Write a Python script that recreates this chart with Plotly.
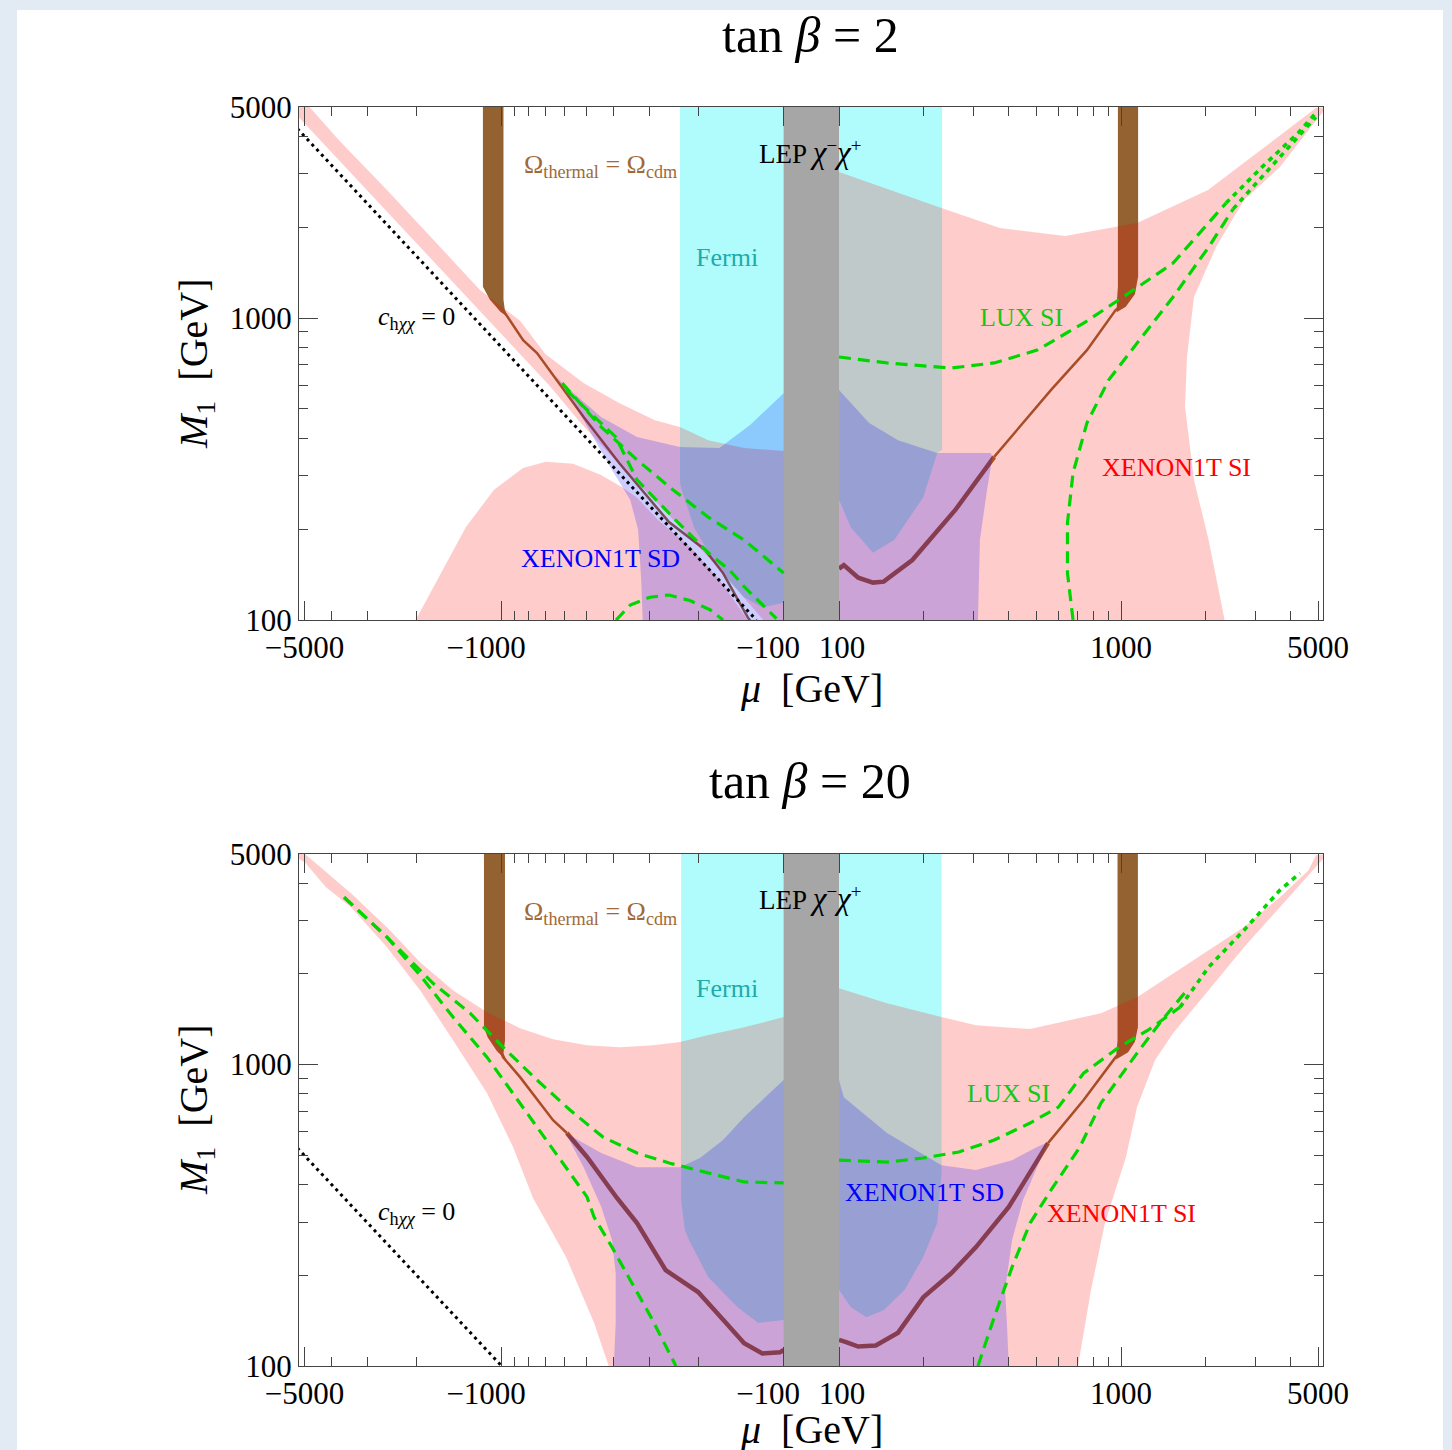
import numpy as np
import plotly.graph_objects as go

# ===================== DATA =====================
# axis ticks
x_tick_values = [-5000, -1000, -100, 100, 1000, 5000]
x_tick_labels = ["\u22125000", "\u22121000\u2003", "\u2212100\u2003", "\u2009100", "1000", "5000"]
x_minor_values = [-4000, -3000, -2000, -900, -800, -700, -600, -500, -400, -300, -200,
                  200, 300, 400, 500, 600, 700, 800, 900, 2000, 3000, 4000]
y_tick_values = [100, 1000, 5000]
y_tick_labels = ["100", "1000", "5000"]
y_minor_values = [200, 300, 400, 500, 600, 700, 800, 900, 2000, 3000, 4000]

# LEP chargino band (both panels)
lep_mu = [-100, 100, 100, -100]
lep_m1 = [100, 100, 5000, 5000]

# ---------- tan(beta) = 2 ----------
fermi_mu_t2 = [-233, 232, 232, 223, 199, 157, 132, 110, 100, -100, -119, -138, -169, -208, -230, -233]
fermi_m1_t2 = [5000, 5000, 366, 357, 255, 184, 167, 203, 250, 114, 110, 119, 146, 203, 270, 284]

brownL_mu_t2 = [-1165, -985, -985, -975, -955, -1010, -1100, -1165]
brownL_m1_t2 = [5000, 5000, 1150, 1070, 1010, 1050, 1150, 1270]
thermL_mu_t2 = [-1000, -919, -839, -749, -657, -512, -383, -255, -190, -164, -134, -130]
thermL_m1_t2 = [1080, 962, 845, 766, 647, 470, 331, 211, 171, 143, 102, 98]

brownR_mu_t2 = [975, 1150, 1150, 1120, 1040, 965, 968, 975]
brownR_m1_t2 = [5000, 5000, 1370, 1200, 1090, 1045, 1150, 1270]
thermR_thin_mu_t2 = [1000, 957, 757, 565, 355]
thermR_thin_m1_t2 = [1100, 1063, 783, 578, 347]
thermR_thick_mu_t2 = [355, 258, 182, 144, 132, 117, 104, 100]
thermR_thick_m1_t2 = [347, 231, 158, 134, 133, 138, 152, 148]

pinkA_mu_t2 = [-5800, -4800, -3772, -2550, -1742, -1193, -860, -700, -512, -383, -286, -233, -185, -138, -100,
               100, 231, 372, 633, 1140, 2035, 2730, 3880, 4910, 5400, 5160, 3660, 2730, 2173, 1815, 1714, 1687,
               1815, 2045, 2330,
               -118, -172, -240, -385, -525, -680, -906, -1359, -2265, -3398, -5436]
pinkA_m1_t2 = [5000, 5000, 3882, 2654, 1813, 1238, 980, 760, 609, 523, 459, 436, 394, 371, 363,
               3043, 2313, 1986, 1869, 2064, 2654, 3260, 4194, 4958, 5000, 4775, 3162, 2459, 1718, 1174, 743, 508,
               291, 184, 100,
               100, 150, 210, 330, 450, 600, 800, 1200, 2000, 3000, 4800]
pinkB_mu_t2 = [-2017, -1644, -1340, -1064, -840, -696, -558, -444, -371, -331, -278, -214, -169, -134]
pinkB_m1_t2 = [100, 143, 203, 270, 319, 334, 329, 302, 274, 254, 214, 174, 136, 100]

blue_mu_t2 = [-646, -563, -467, -406, -350, -328, -320, -316, 311, 316, 335, 350, 345, 223, 162, 128, 100,
              -100, -131.5, -169, -233, -331, -444, -610]
blue_m1_t2 = [647, 535, 394, 314, 250, 199, 136, 100, 100, 184, 270, 347, 357, 357, 394, 449, 578,
              564, 442, 371, 374, 404, 470, 609]

lux1_mu_t2 = [100, 148, 250, 355, 504, 737, 1017, 1530, 2357]
lux1_m1_t2 = [743, 710, 683, 710, 783, 962, 1174, 1520, 2403]
lux2_mu_t2 = [676, 646, 646, 676, 757, 904, 1140, 1530, 2045, 2500]
lux2_m1_t2 = [100, 143, 210, 307, 449, 623, 826, 1174, 1718, 2300]
luxtail_mu_t2 = [2357, 3162, 4245, 4910]
luxtail_m1_t2 = [2403, 3162, 4100, 4775]
luxtail2_mu_t2 = [2500, 3660, 4910]
luxtail2_m1_t2 = [2300, 3412, 4630]
lux3_mu_t2 = [-610, -444, -331, -247, -185, -138, -100]
lux3_m1_t2 = [609, 436, 339, 270, 219, 184, 143]
lux4_mu_t2 = [-591, -470, -394, -331, -247, -185, -155, -138, -106]
lux4_m1_t2 = [578, 470, 404, 291, 219, 167, 146, 129, 101]
lux5_mu_t2 = [-393, -350, -298, -255, -215, -182, -164]
lux5_m1_t2 = [100, 112, 119, 121, 116, 108, 100]

blind_mu_t2 = [-5300, -125]
blind_m1_t2 = [4240, 100]

# ---------- tan(beta) = 20 ----------
fermi_mu_t20 = [-231, 231, 231, 223, 199, 171, 144, 125, 110, 100, -100, -123, -146, -185, -214, -224, -231]
fermi_m1_t20 = [5000, 5000, 437, 298, 230, 179, 153, 145, 157, 179, 142, 139, 157, 197, 256, 282, 355]

brownL_mu_t20 = [-1155, -973, -973, -985, -960, -1040, -1120, -1155]
brownL_m1_t20 = [5000, 5000, 1200, 1090, 1030, 1110, 1230, 1330]
thermL_thin_mu_t20 = [-1000, -989, -860, -657, -587]
thermL_thin_m1_t20 = [1090, 1059, 909, 654, 593]
thermL_thick_mu_t20 = [-587, -498, -390, -331, -262, -233, -201, -160, -138, -119, -103, -100]
thermL_thick_m1_t20 = [593, 494, 361, 298, 208, 193, 176, 139, 119, 110, 111, 113]

brownR_mu_t20 = [972, 1148, 1148, 1120, 1060, 960, 965, 972]
brownR_m1_t20 = [5000, 5000, 1330, 1190, 1100, 1040, 1120, 1200]
thermR_thin_mu_t20 = [1000, 957, 737, 551]
thermR_thin_m1_t20 = [1100, 1059, 763, 549]
thermR_thick_mu_t20 = [551, 400, 306, 250, 199, 162, 135, 117, 106, 100]
thermR_thick_m1_t20 = [549, 337, 248, 203, 169, 129, 117, 116, 120, 122]

pink_mu_t20 = [-5400, -4980, -3420, -2488, -1947, -1487, -1127, -860, -657, -498, -380, -290, -233, -185, -138, -100,
               100, 148, 231, 306, 476, 849, 1140, 1530, 2045, 2730, 3660, 4625, 4910, 5400,
               5160, 4900, 3660, 2730, 2045, 1530, 1320, 1140, 1041, 877, 783, 704,
               -417, -470, -591, -774, -911, -1127, -1487, -1947, -2550, -3420, -4197, -4980, -5600]
pink_m1_t20 = [5000, 5000, 3704, 2793, 2188, 1766, 1493, 1321, 1215, 1160, 1143, 1160, 1188, 1253, 1331, 1438,
               1794, 1600, 1438, 1352, 1312, 1482, 1674, 2012, 2398, 2860, 3594, 4420, 4950, 5000,
               4766, 4520, 3330, 2450, 1766, 1272, 1035, 723, 493, 298, 179, 100,
               100, 139, 230, 361, 533, 805, 1206, 1766, 2450, 3330, 3880, 4690, 5000]

blue_mu_t20 = [-593, -512, -443, -406, -394, -394, -400, 400, 394, 388, 411, 449, 504, 551, 504, 411, 306, 231,
               148, 104, 100, -100, -138, -164, -198, -233, -331, -443]
blue_m1_t20 = [593, 457, 337, 262, 203, 139, 100, 100, 139, 179, 262, 355, 457, 553, 533, 482, 447, 464,
               593, 780, 889, 889, 670, 562, 490, 457, 457, 509]

lux1L_mu_t20 = [-3620, -2550, -1750, -1294, -989, -749, -572, -437, -331, -253, -190, -138, -100]
lux1L_m1_t20 = [3594, 2648, 1862, 1482, 1143, 889, 707, 575, 509, 471, 440, 408, 405]
lux1R_mu_t20 = [100, 148, 199, 266, 355, 476, 600, 737, 984, 1247, 1619]
lux1R_m1_t20 = [482, 475, 490, 513, 562, 640, 723, 937, 1143, 1301, 1551]
lux2L_mu_t20 = [-3620, -2550, -1947, -1487, -1127, -860, -657, -498, -470, -406, -350, -295, -241]
lux2L_m1_t20 = [3594, 2648, 1981, 1438, 1059, 745, 520, 364, 312, 248, 193, 145, 100]
lux2R_mu_t20 = [311, 355, 411, 476, 565, 715, 849, 1140, 1398, 1714]
lux2R_m1_t20 = [100, 145, 213, 298, 384, 533, 745, 1092, 1405, 1766]
luxtail_mu_t20 = [1619, 2045, 2730, 3660, 4313]
luxtail_m1_t20 = [1551, 2106, 2793, 3793, 4318]

blind_mu_t20 = [-5300, -1000]
blind_m1_t20 = [529, 100]

# ===================== STYLE =====================
W, H = 1452, 1450
GAP = 0.0982                      # half-width of the mu gap (decades)
X_RANGE = [-1.8167, 1.8145]
FONT = "Liberation Serif"
AX = "#444444"
CYAN = "rgb(176,252,252)"
BROWN = "rgb(148,97,48)"
PINK = "rgba(255,0,0,0.2)"
BLUE = "rgba(0,0,255,0.2)"
GREY = "rgb(166,166,166)"
GREEN = "rgb(0,215,0)"


def tx(vals):
    """signed-log mapping of mu onto the linear x axis"""
    return [float(np.sign(v) * (np.log10(abs(v)) - 2 + GAP)) for v in vals]


fig = go.Figure()


def poly(mu, m1, color, xa, ya):
    fig.add_trace(go.Scatter(x=tx(mu), y=m1, mode="lines", fill="toself", fillcolor=color,
                             line=dict(width=0, color=color), hoverinfo="skip", showlegend=False,
                             xaxis=xa, yaxis=ya))


def curve(mu, m1, color, width, dash, xa, ya):
    fig.add_trace(go.Scatter(x=tx(mu), y=m1, mode="lines",
                             line=dict(color=color, width=width, dash=dash),
                             hoverinfo="skip", showlegend=False, xaxis=xa, yaxis=ya))


GDASH = "12px,7px"
TDASH = "5px,5px"
DOT = "3px,4px"

# ---- panel tan beta = 2 ----
xa, ya = "x", "y"
poly(fermi_mu_t2, fermi_m1_t2, CYAN, xa, ya)
poly(brownL_mu_t2, brownL_m1_t2, BROWN, xa, ya)
poly(brownR_mu_t2, brownR_m1_t2, BROWN, xa, ya)
curve(thermL_mu_t2, thermL_m1_t2, BROWN, 2.5, "solid", xa, ya)
curve(thermR_thin_mu_t2, thermR_thin_m1_t2, BROWN, 2.5, "solid", xa, ya)
curve(thermR_thick_mu_t2, thermR_thick_m1_t2, BROWN, 4.5, "solid", xa, ya)
poly(pinkA_mu_t2, pinkA_m1_t2, PINK, xa, ya)
poly(pinkB_mu_t2, pinkB_m1_t2, PINK, xa, ya)
poly(blue_mu_t2, blue_m1_t2, BLUE, xa, ya)
poly(lep_mu, lep_m1, GREY, xa, ya)
for mu, m1 in [(lux1_mu_t2, lux1_m1_t2), (lux2_mu_t2, lux2_m1_t2), (lux3_mu_t2, lux3_m1_t2),
               (lux4_mu_t2, lux4_m1_t2), (lux5_mu_t2, lux5_m1_t2)]:
    curve(mu, m1, GREEN, 3.2, GDASH, xa, ya)
curve(luxtail_mu_t2, luxtail_m1_t2, GREEN, 3.6, TDASH, xa, ya)
curve(luxtail2_mu_t2, luxtail2_m1_t2, GREEN, 3.6, TDASH, xa, ya)
curve(blind_mu_t2, blind_m1_t2, "black", 3, DOT, xa, ya)

# ---- panel tan beta = 20 ----
xa, ya = "x2", "y2"
poly(fermi_mu_t20, fermi_m1_t20, CYAN, xa, ya)
poly(brownL_mu_t20, brownL_m1_t20, BROWN, xa, ya)
poly(brownR_mu_t20, brownR_m1_t20, BROWN, xa, ya)
curve(thermL_thin_mu_t20, thermL_thin_m1_t20, BROWN, 2.5, "solid", xa, ya)
curve(thermL_thick_mu_t20, thermL_thick_m1_t20, BROWN, 4.5, "solid", xa, ya)
curve(thermR_thin_mu_t20, thermR_thin_m1_t20, BROWN, 2.5, "solid", xa, ya)
curve(thermR_thick_mu_t20, thermR_thick_m1_t20, BROWN, 4.5, "solid", xa, ya)
poly(pink_mu_t20, pink_m1_t20, PINK, xa, ya)
poly(blue_mu_t20, blue_m1_t20, BLUE, xa, ya)
poly(lep_mu, lep_m1, GREY, xa, ya)
for mu, m1 in [(lux1L_mu_t20, lux1L_m1_t20), (lux1R_mu_t20, lux1R_m1_t20),
               (lux2L_mu_t20, lux2L_m1_t20), (lux2R_mu_t20, lux2R_m1_t20)]:
    curve(mu, m1, GREEN, 3.2, GDASH, xa, ya)
curve(luxtail_mu_t20, luxtail_m1_t20, GREEN, 3.6, TDASH, xa, ya)
curve(blind_mu_t20, blind_m1_t20, "black", 3, DOT, xa, ya)

# ===================== AXES =====================
tickfont = dict(family=FONT, size=31, color="black")
common_x = dict(range=X_RANGE, tickmode="array", tickvals=tx(x_tick_values), ticktext=x_tick_labels,
                tickangle=0, automargin=False,
                ticks="inside", ticklen=19, tickwidth=1, tickcolor=AX, showline=True, linecolor=AX,
                linewidth=1.3, mirror="allticks", showgrid=False, zeroline=False, tickfont=tickfont,
                minor=dict(tickmode="array", tickvals=tx(x_minor_values), ticks="inside", ticklen=9,
                           tickwidth=1, tickcolor=AX, showgrid=False),
                domain=[299 / W, 1323 / W], fixedrange=True)
common_y = dict(type="log", range=[np.log10(100), np.log10(5000)], tickmode="array",
                tickvals=y_tick_values, ticktext=y_tick_labels, tickangle=0, automargin=False,
                ticks="inside", ticklen=19, tickwidth=1, tickcolor=AX, showline=True, linecolor=AX,
                linewidth=1.3, mirror="allticks", showgrid=False, zeroline=False, tickfont=tickfont,
                minor=dict(tickmode="array", tickvals=y_minor_values, ticks="inside", ticklen=9,
                           tickwidth=1, tickcolor=AX, showgrid=False),
                fixedrange=True)

fig.update_layout(
    width=W, height=H, autosize=False,
    margin=dict(l=0, r=0, t=0, b=0, pad=0, autoexpand=False),
    paper_bgcolor="#E2EAF4", plot_bgcolor="rgba(0,0,0,0)",
    xaxis=dict(**common_x, anchor="y"),
    yaxis=dict(**common_y, anchor="x", domain=[1 - 620 / H, 1 - 107 / H]),
    xaxis2=dict(**common_x, anchor="y2"),
    yaxis2=dict(**common_y, anchor="x2", domain=[1 - 1366 / H, 1 - 854 / H]),
    shapes=[dict(type="rect", xref="paper", yref="paper", x0=17 / W, x1=1443 / W, y0=-0.01,
                 y1=1 - 10 / H, fillcolor="white", line=dict(width=0), layer="below")],
)

# ===================== TEXT =====================
annots = []


def label(text, x, y, size, color="black", angle=0):
    annots.append(dict(text=text, x=x / W, y=1 - y / H, xref="paper", yref="paper", showarrow=False,
                       xanchor="center", yanchor="middle", textangle=angle,
                       font=dict(family=FONT, size=size, color=color)))


OMEGA = "\u03a9<sub>thermal</sub> = \u03a9<sub>cdm</sub>"
LEP = ("LEP <span style='font-size:31px'><i>\u03c7</i></span><sup>\u2212</sup>"
       "<span style='font-size:31px'><i>\u03c7</i></span><sup>+</sup>")
CH = "<i>c</i><sub>h<i>\u03c7\u03c7</i></sub> = 0"
C_OM = "rgb(160,105,55)"
C_FE = "rgb(32,170,170)"
C_LUX = "rgb(20,200,20)"

label("tan <i>\u03b2</i> = 2", 810, 35, 50)
label("tan <i>\u03b2</i> = 20", 810, 781, 50)
for yc in (364, 1110):
    label("<i>M</i><sub>1</sub>\u2002[GeV]", 196, yc, 40, angle=-90)
label("<i>\u03bc</i>\u2002[GeV]", 811, 688, 40)
label("<i>\u03bc</i>\u2002[GeV]", 811, 1429, 40)

label(OMEGA, 600, 166, 26, C_OM)
label(LEP, 810, 152, 27)
label("Fermi", 727, 257, 26, C_FE)
label(CH, 416, 318, 26)
label("LUX SI", 1022, 317, 26, C_LUX)
label("XENON1T SI", 1176, 467, 26, "red")
label("XENON1T SD", 600, 558, 26, "blue")

label(OMEGA, 600, 913, 26, C_OM)
label(LEP, 810, 898, 27)
label("Fermi", 727, 988, 26, C_FE)
label(CH, 416, 1213, 26)
label("LUX SI", 1008, 1093, 26, C_LUX)
label("XENON1T SD", 924, 1192, 26, "blue")
label("XENON1T SI", 1121, 1213, 26, "red")

fig.update_layout(annotations=annots)

fig.write_html("out.html", post_script="document.body.style.margin='0px';")
